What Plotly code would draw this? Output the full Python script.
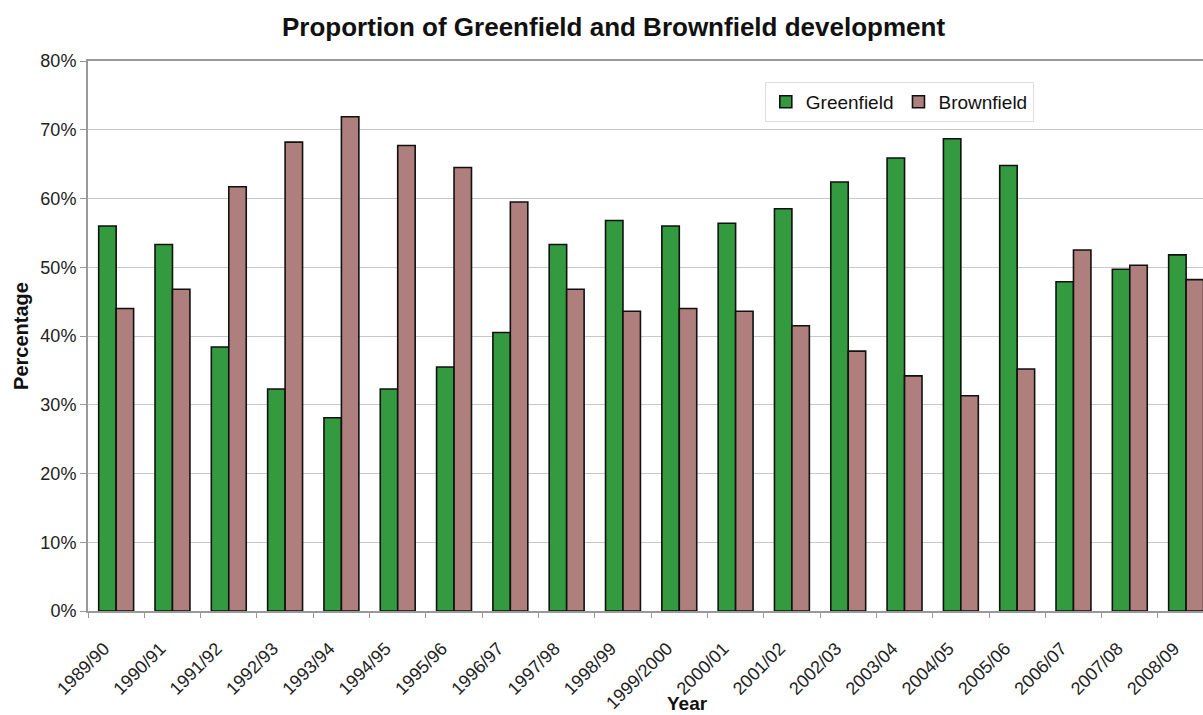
import plotly.graph_objects as go

years = ["1989/90", "1990/91", "1991/92", "1992/93", "1993/94", "1994/95", "1995/96",
         "1996/97", "1997/98", "1998/99", "1999/2000", "2000/01", "2001/02", "2002/03",
         "2003/04", "2004/05", "2005/06", "2006/07", "2007/08", "2008/09"]
greenfield = [56.0, 53.3, 38.4, 32.3, 28.1, 32.3, 35.5, 40.5, 53.3, 56.8,
              56.0, 56.4, 58.5, 62.4, 65.9, 68.7, 64.8, 47.9, 49.7, 51.8]
brownfield = [44.0, 46.8, 61.7, 68.2, 71.9, 67.7, 64.5, 59.5, 46.8, 43.6,
              44.0, 43.6, 41.5, 37.8, 34.2, 31.3, 35.2, 52.5, 50.3, 48.2]
yticks = [0, 10, 20, 30, 40, 50, 60, 70, 80]
ytick_labels = [f"{v}%" for v in yticks]

FONT = "Liberation Sans, Arial, sans-serif"

fig = go.Figure()
fig.add_trace(go.Bar(name="Greenfield", x=years, y=greenfield,
                     marker=dict(color="#349A3F", line=dict(color="#111111", width=1.6))))
fig.add_trace(go.Bar(name="Brownfield", x=years, y=brownfield,
                     marker=dict(color="#AE7F7D", line=dict(color="#111111", width=1.6))))

fig.update_layout(
    width=1203, height=715,
    margin=dict(l=88, r=0, t=61, b=104),
    paper_bgcolor="white", plot_bgcolor="white",
    barmode="group", bargap=0.38, bargroupgap=0,
    font=dict(family=FONT, color="#222222"),
    title=dict(text="<b>Proportion of Greenfield and Brownfield development</b>",
               x=0.51, xanchor="center", y=0.962, yanchor="middle",
               font=dict(family=FONT, size=26, color="#111111")),
    legend=dict(orientation="h", x=0.607, xanchor="left", y=0.962, yanchor="top",
                bgcolor="white", bordercolor="#dddddd", borderwidth=1,
                font=dict(family=FONT, size=19, color="#111111"),
                traceorder="normal", itemwidth=30, tracegroupgap=0),
    showlegend=True,
)
fig.update_xaxes(
    type="category", range=[-0.5, 19.3],
    showline=True, linecolor="#999999", linewidth=2, mirror=True,
    ticks="outside", tickson="boundaries", ticklen=5, tickcolor="#999999",
    tickangle=-45, tickfont=dict(family=FONT, size=18, color="#222222"),
    ticklabelstandoff=18, ticklabelshift=-12,
    showgrid=False,
)
fig.update_yaxes(
    range=[0, 80], tickvals=yticks, ticktext=ytick_labels,
    showline=True, linecolor="#999999", linewidth=2, mirror=False,
    ticks="outside", ticklen=6, tickcolor="#999999",
    showgrid=True, gridcolor="#c8c8c8", gridwidth=1,
    tickfont=dict(family=FONT, size=18, color="#222222"),
    title=dict(text="<b>Percentage</b>", font=dict(family=FONT, size=20, color="#111111"),
               standoff=6),
)
fig.add_annotation(text="<b>Year</b>", x=0.538, xref="paper", y=0, yref="paper",
                   yanchor="middle", yshift=-92, showarrow=False,
                   font=dict(family=FONT, size=19, color="#111111"))

fig.write_html("out.html")
